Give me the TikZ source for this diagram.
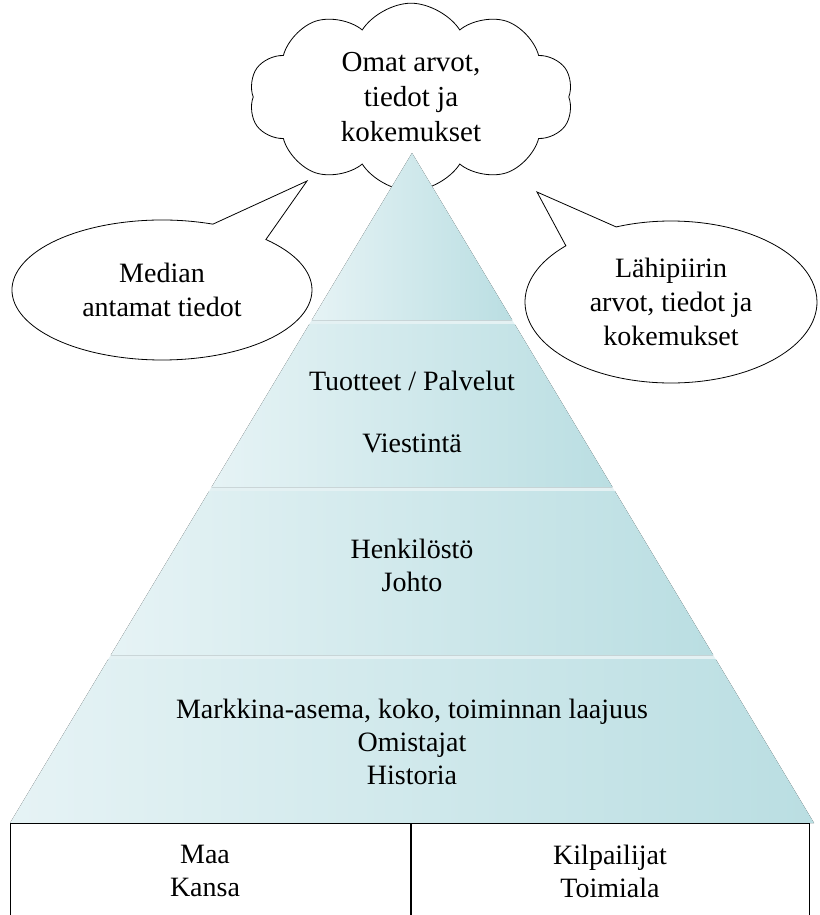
\documentclass[tikz,border=0pt]{standalone}
\usepackage{fontspec}
\setmainfont{Liberation Serif}
\usetikzlibrary{shapes.symbols,shapes.callouts}

\definecolor{bandlight}{HTML}{E6F3F5}
\definecolor{banddark}{HTML}{BADEE2}
\definecolor{bandgap}{HTML}{E4F1F3}

\tikzset{
	txt/.style={align=center,inner sep=0pt,font=\fontsize{14}{16.5}\selectfont},
	band/.style={left color=bandlight,right color=banddark,draw=none},
	bubble/.style={ellipse callout,draw,fill=white,callout pointer arc=24,
		align=center,font=\fontsize{14}{17}\selectfont},
	cell/.style={draw,anchor=north west,minimum height=70pt,inner sep=0pt}
}

\begin{document}
\begin{tikzpicture}[x=0.5pt,y=-0.5pt]
	\useasboundingbox (0,0) rectangle (819,915);
	
	% the cloud on top
	\node[cloud,draw,fill=white,cloud puffs=10,cloud puff arc=115,aspect=2,
		minimum width=162pt,minimum height=76pt,align=center,
		font=\fontsize{14.5}{17.5}\selectfont] (omat) at (411,97)
		{Omat arvot,\\tiedot ja\\kokemukset};
	
	% pyramid
	\fill[bandgap] (412,153) -- (814,823) -- (10,823) -- cycle;
	\fill[band] (412,153) -- (512.2,320) -- (311.8,320) -- cycle;
	\fill[band] (309.4,324) -- (514.6,324) -- (612.4,487) -- (211.6,487) -- cycle;
	\fill[band] (209.2,491) -- (614.8,491) -- (713.2,655) -- (110.8,655) -- cycle;
	\fill[band] (108.4,659) -- (715.6,659) -- (814,823) -- (10,823) -- cycle;
	
	\node[txt] (tuotteet) at (412,381) {Tuotteet / Palvelut};
	\node[txt] (viestinta) at (412,443) {Viestintä};
	\node[txt] (henkilosto) at (412,565) {Henkilöstö\\Johto};
	\node[txt] (markkina) at (412,742) {Markkina-asema, koko, toiminnan laajuus\\Omistajat\\Historia};
	
	% speech bubbles
	\node[bubble,minimum width=150pt,minimum height=70pt,
		callout absolute pointer={(307,181)}] (media) at (162,290)
		{Median\\antamat tiedot};
	\node[bubble,minimum width=146pt,minimum height=81pt,
		callout absolute pointer={(537,192)}] (lahipiiri) at (671,302)
		{Lähipiirin\\arvot, tiedot ja\\kokemukset};
	
	% table below
	\node[cell,minimum width=200pt] (maa) at (10,823) {};
	\node[cell,minimum width=199pt] (kilpailijat) at (maa.north east) {};
	\node[txt] (maatxt) at (205,871) {Maa\\Kansa};
	\node[txt] (kilptxt) at (610,871) {Kilpailijat\\Toimiala};
\end{tikzpicture}
\end{document}
